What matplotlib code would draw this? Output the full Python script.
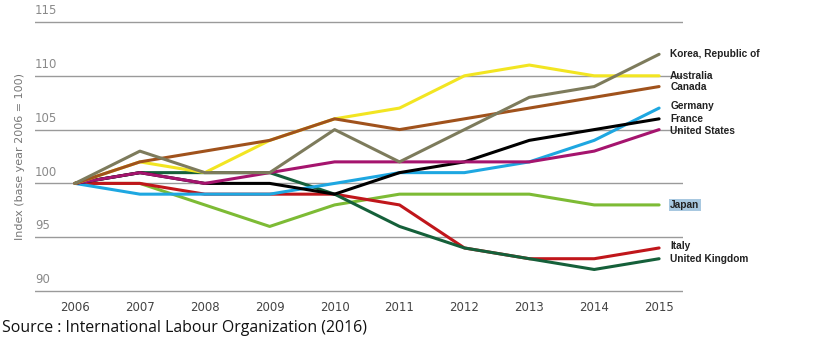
import matplotlib
matplotlib.use("Agg")
import matplotlib.pyplot as plt

years = [2006, 2007, 2008, 2009, 2010, 2011, 2012, 2013, 2014, 2015]

korea = [100, 103, 101, 101, 105, 102, 105, 108, 109, 112]
australia = [100, 102, 101, 104, 106, 107, 110, 111, 110, 110]
canada = [100, 102, 103, 104, 106, 105, 106, 107, 108, 109]
germany = [100, 99, 99, 99, 100, 101, 101, 102, 104, 107]
france = [100, 101, 100, 100, 99, 101, 102, 104, 105, 106]
usa = [100, 101, 100, 101, 102, 102, 102, 102, 103, 105]
japan = [100, 100, 98, 96, 98, 99, 99, 99, 98, 98]
italy = [100, 100, 99, 99, 99, 98, 94, 93, 93, 94]
uk = [100, 101, 101, 101, 99, 96, 94, 93, 92, 93]

y_ticks = [90, 95, 100, 105, 110, 115]

# label text and its vertical spot on the right
labels = [
    ("Korea, Republic of", 112.0),
    ("Australia", 110.0),
    ("Canada", 108.95),
    ("Germany", 107.2),
    ("France", 106.0),
    ("United States", 104.9),
    ("Japan", 98.0),
    ("Italy", 94.2),
    ("United Kingdom", 93.0),
]

series = [
    (japan, "#7dbb35"),
    (italy, "#c0161b"),
    (uk, "#15603a"),
    (germany, "#1ea7e1"),
    (france, "#000000"),
    (usa, "#a5146e"),
    (australia, "#f2e522"),
    (canada, "#a0521c"),
    (korea, "#7d7b5c"),
]

W, H = 816, 357
fig = plt.figure(figsize=(W / 100, H / 100), dpi=100)

x0 = 2006 + (35 - 75) / 64.9
x1 = 2006 + (683 - 75) / 64.9
y_lo, y_hi = 89.8, 115.2
px_per = (291 - 22) / 25.0
top_px = 22 - (y_hi - 115) * px_per
bot_px = 291 + (90 - y_lo) * px_per
ax = fig.add_axes([35 / W, (H - bot_px) / H, (683 - 35) / W, (bot_px - top_px) / H])
ax.set_xlim(x0, x1)
ax.set_ylim(y_lo, y_hi)

for v in y_ticks:
    ax.axhline(v, color="#9a9a9a", lw=1.0, zorder=1)
    ax.text(x0, v + 0.45, str(v), color="#8a8a8a", fontsize=8.5,
            ha="left", va="bottom")

for vals, c in series:
    ax.plot(years, vals, color=c, lw=2.2, solid_capstyle="round", zorder=3)

for name, yv in labels:
    t = ax.text(2015.17, yv, name, family="Liberation Sans", weight="bold",
                fontsize=7.3, color="#222222", ha="left", va="center",
                clip_on=False)
    if name == "Japan":
        t.set_bbox(dict(facecolor="#a8c8e0", edgecolor="none", pad=1))

ax.set_xticks(years)
ax.set_xticklabels([str(y) for y in years], color="#444444", fontsize=8.5)
ax.tick_params(axis="x", length=0, pad=6)
ax.set_yticks([])
for s in ax.spines.values():
    s.set_visible(False)

fig.text(20 / W, (H - 157) / H, "Index (base year 2006 = 100)", rotation=90,
         color="#777777", fontsize=8, ha="center", va="center")

fig.text(2 / W, (H - 328) / H, "Source : International Labour Organization (2016)",
         fontsize=11.4, family="Open Sans", color="#111111", ha="left", va="center")

fig.savefig("out.png", dpi=100)
